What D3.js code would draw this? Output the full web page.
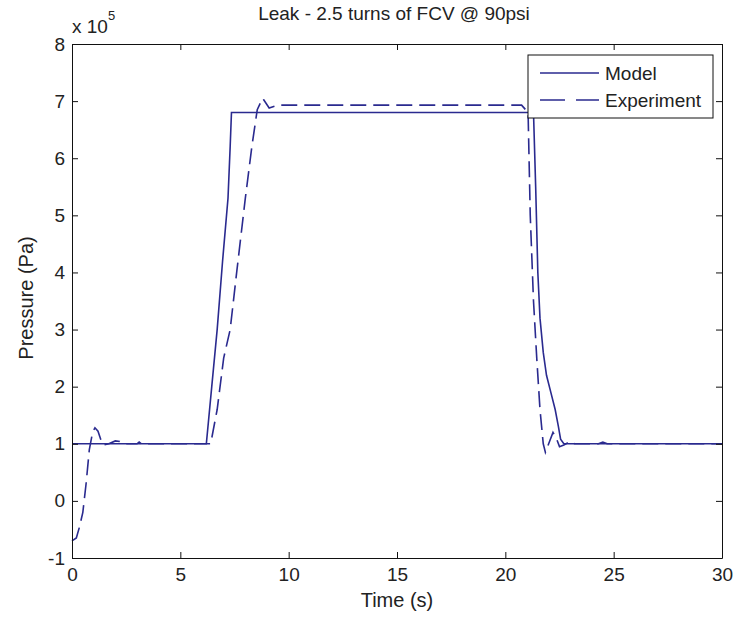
<!DOCTYPE html>
<html>
<head>
<meta charset="utf-8">
<script src="https://cdn.jsdelivr.net/npm/d3@7"></script>
<style>
  body { margin: 0; background: #fff; }
  svg text { font-family: "Liberation Sans", Arial, sans-serif; fill: #222; }
</style>
</head>
<body>
<svg id="chart" width="736" height="619"></svg>
<script>
// values, pressure in units of 1e5 Pa
const modelTime = [0, 6.2, 6.45, 6.7, 6.95, 7.2, 7.3, 7.36, 21.3, 21.4, 21.5, 21.6, 21.75, 21.9, 22.1, 22.3, 22.45, 22.55, 22.7, 30];
const modelPressure = [1.0, 1.0, 2.0, 3.0, 4.2, 5.3, 6.2, 6.8, 6.8, 5.5, 4.0, 3.2, 2.6, 2.2, 1.9, 1.6, 1.3, 1.08, 1.0, 1.0];

const expTime = [0, 0.2, 0.35, 0.5, 0.65, 0.8, 0.95, 1.06, 1.2, 1.35, 1.45, 1.7, 2.0, 2.2, 2.4, 3.0, 3.1, 3.2,
  6.4, 6.7, 7.0, 7.3, 7.6, 8.0, 8.3, 8.55, 8.8, 9.1, 9.5, 20.75, 21.05, 21.15, 21.3, 21.45, 21.6, 21.75, 21.85,
  22.0, 22.2, 22.35, 22.5, 22.7, 23.0, 23.2, 24.3, 24.5, 24.7, 30];
const expPressure = [-0.7, -0.65, -0.45, -0.2, 0.3, 0.9, 1.2, 1.28, 1.22, 1.05, 0.98, 1.0, 1.05, 1.04, 1.0, 1.0, 1.03, 1.0,
  1.0, 1.6, 2.5, 3.0, 4.0, 5.3, 6.2, 6.85, 7.05, 6.88, 6.93, 6.93, 6.8, 5.0, 3.5, 2.5, 1.6, 1.0, 0.85,
  1.0, 1.2, 1.1, 0.95, 0.98, 1.04, 1.0, 1.0, 1.03, 1.0, 1.0];

const xTicks = [0, 5, 10, 15, 20, 25, 30];
const yTicks = [-1, 0, 1, 2, 3, 4, 5, 6, 7, 8];
const seriesNames = ['Model', 'Experiment'];

const lineColor = '#2a2a8f';
const svg = d3.select('#chart');
const plotLeft = 72, plotRight = 722, plotTop = 44, plotBottom = 558;

const x = d3.scaleLinear().domain([0, 30]).range([plotLeft, plotRight]);
const y = d3.scaleLinear().domain([-1, 8]).range([plotBottom, plotTop]);

// data lines
const line = d3.line().x(d => x(d[0])).y(d => y(d[1]));
const modelData = modelTime.map((t, i) => [t, modelPressure[i]]);
const expData = expTime.map((t, i) => [t, expPressure[i]]);

svg.append('path').datum(modelData)
  .attr('d', line).attr('fill', 'none')
  .attr('stroke', lineColor).attr('stroke-width', 1.6);
svg.append('path').datum(expData)
  .attr('d', line).attr('fill', 'none')
  .attr('stroke', lineColor).attr('stroke-width', 1.6)
  .attr('stroke-dasharray', '16,7');

// axes (ticks inward, on all four sides)
const axisStyle = g => {
  g.select('.domain').attr('stroke', '#111');
  g.selectAll('.tick line').attr('stroke', '#111');
  g.selectAll('.tick text').attr('font-size', 19).attr('fill', '#2a2a2a')
    .attr('font-family', '"Liberation Sans", Arial, sans-serif');
};
const plain = d => String(d);
svg.append('g').attr('transform', `translate(0,${plotBottom})`)
  .call(d3.axisBottom(x).tickValues(xTicks).tickSizeInner(-6).tickSizeOuter(0).tickPadding(10).tickFormat(plain))
  .call(axisStyle);
svg.append('g').attr('transform', `translate(0,${plotTop})`)
  .call(d3.axisTop(x).tickValues(xTicks).tickSizeInner(-6).tickSizeOuter(0).tickFormat(''))
  .call(axisStyle);
svg.append('g').attr('transform', `translate(${plotLeft},0)`)
  .call(d3.axisLeft(y).tickValues(yTicks).tickSizeInner(-6).tickSizeOuter(0).tickPadding(7).tickFormat(plain))
  .call(axisStyle);
svg.append('g').attr('transform', `translate(${plotRight},0)`)
  .call(d3.axisRight(y).tickValues(yTicks).tickSizeInner(-6).tickSizeOuter(0).tickFormat(''))
  .call(axisStyle);

// exponent
const ex = svg.append('text').attr('x', plotLeft).attr('y', 33).attr('font-size', 19).attr('fill', '#2a2a6a');
ex.append('tspan').text('x 10');
ex.append('tspan').attr('dy', -13).attr('font-size', 13).text('5');

// title + labels
svg.append('text').attr('x', 394).attr('y', 20).attr('text-anchor', 'middle')
  .attr('font-size', 19).text('Leak - 2.5 turns of FCV @ 90psi');
svg.append('text').attr('x', 397).attr('y', 607).attr('text-anchor', 'middle')
  .attr('font-size', 20).text('Time (s)');
svg.append('text').attr('transform', 'translate(33,298) rotate(-90)')
  .attr('text-anchor', 'middle').attr('font-size', 20).text('Pressure (Pa)');

// legend
const lg = svg.append('g');
lg.append('rect').attr('x', 528).attr('y', 55).attr('width', 185).attr('height', 63)
  .attr('fill', '#fff').attr('stroke', '#111');
seriesNames.forEach((name, i) => {
  const yy = 73 + i * 27;
  lg.append('line').attr('x1', 540).attr('x2', 599).attr('y1', yy).attr('y2', yy)
    .attr('stroke', lineColor).attr('stroke-width', 1.6)
    .attr('stroke-dasharray', i === 1 ? '25,11' : null);
  lg.append('text').attr('x', 605).attr('y', yy + 7).attr('font-size', 19).text(name);
});
</script>
</body>
</html>
